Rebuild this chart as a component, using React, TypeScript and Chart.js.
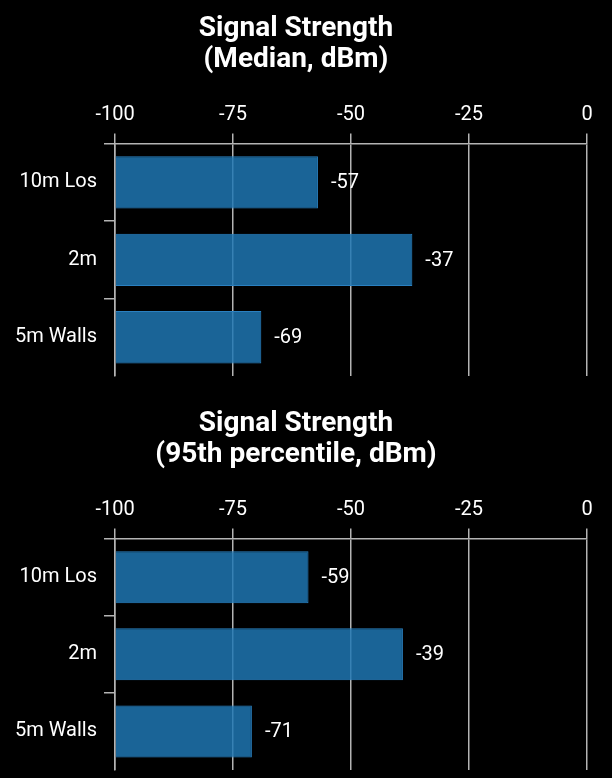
import React, { useEffect, useRef } from 'react';
import { Chart, registerables } from 'chart.js';

Chart.register(...registerables);

// ---- data ----
const categories = ['10m Los', '2m', '5m Walls'];
const medianValues = [-57, -37, -69];
const p95Values = [-59, -39, -71];
const xTickValues = [-100, -75, -50, -25, 0];
const medianTitle = ['Signal Strength', '(Median, dBm)'];
const p95Title = ['Signal Strength', '(95th percentile, dBm)'];
const axisMin = -100;
const axisMax = 0;

const GRID = '#b4b4b4';
const FONT = "Roboto, 'DejaVu Sans', sans-serif";

const valueLabels = {
  id: 'valueLabels',
  afterDatasetsDraw(chart: any) {
    const { ctx } = chart;
    chart.data.datasets.forEach((ds: any, di: number) => {
      const meta = chart.getDatasetMeta(di);
      meta.data.forEach((el: any, i: number) => {
        ctx.save();
        ctx.fillStyle = '#ffffff';
        ctx.font = `20px ${FONT}`;
        ctx.textAlign = 'left';
        ctx.textBaseline = 'middle';
        ctx.fillText(String(ds.data[i]), el.x + 13, el.y + 1);
        ctx.restore();
      });
    });
  },
};

function BarPanel(props: { title: string[]; values: number[]; height: number; padBottom: number }) {
  const ref = useRef<HTMLCanvasElement | null>(null);
  useEffect(() => {
    if (!ref.current) return;
    const chart = new Chart(ref.current, {
      type: 'bar',
      data: {
        labels: categories,
        datasets: [
          {
            data: props.values,
            base: axisMin,
            backgroundColor: 'rgba(31,119,180,0.84)',
            borderColor: 'rgba(42,128,192,1)',
            borderWidth: 1,
            barPercentage: 0.675,
            categoryPercentage: 1,
          } as any,
        ],
      },
      options: {
        indexAxis: 'y',
        responsive: false,
        animation: false,
        devicePixelRatio: 1,
        layout: { padding: { left: 5, right: 25, top: 0, bottom: props.padBottom } },
        plugins: {
          legend: { display: false },
          tooltip: { enabled: false },
          title: {
            display: true,
            text: props.title,
            color: '#ffffff',
            font: { family: FONT, size: 28, weight: 'bold', lineHeight: 1.1 },
            padding: { top: 14, bottom: 20 },
          },
        },
        scales: {
          x: {
            position: 'top',
            min: axisMin,
            max: axisMax,
            afterBuildTicks: (scale: any) => {
              scale.ticks = xTickValues.map((v) => ({ value: v }));
            },
            ticks: {
              color: '#ffffff',
              font: { family: FONT, size: 20, lineHeight: 1.2 },
              padding: 7,
              maxRotation: 0,
            },
            grid: { color: GRID, lineWidth: 1.5, tickLength: 10 },
            border: { display: true, color: GRID, width: 1.5 },
          },
          y: {
            afterFit: (scale: any) => {
              scale.width = 110;
              scale.paddingTop = 0;
              scale.paddingBottom = 0;
            },
            ticks: {
              color: '#ffffff',
              font: { family: FONT, size: 20, lineHeight: 1.2 },
              padding: 7,
            },
            grid: {
              drawOnChartArea: false,
              offset: true,
              tickLength: 11,
              lineWidth: 1.5,
              color: (ctx: any) => (ctx.type === 'tick' ? GRID : 'rgba(0,0,0,0)'),
            },
            border: { display: true, color: GRID, width: 1.5 },
          },
        },
      } as any,
      plugins: [valueLabels],
    });
    return () => chart.destroy();
  }, []);
  return <canvas ref={ref} width={612} height={props.height} style={{ display: 'block', width: 612, height: props.height }} />;
}

export default function App() {
  return (
    <div style={{ position: 'absolute', left: 0, top: 0, width: 612, height: 778, background: '#000', overflow: 'hidden' }}>
      <div style={{ position: 'absolute', left: 0, top: 0 }}>
        <BarPanel title={medianTitle} values={medianValues} height={394} padBottom={18} />
      </div>
      <div style={{ position: 'absolute', left: 0, top: 395 }}>
        <BarPanel title={p95Title} values={p95Values} height={383} padBottom={8} />
      </div>
    </div>
  );
}
